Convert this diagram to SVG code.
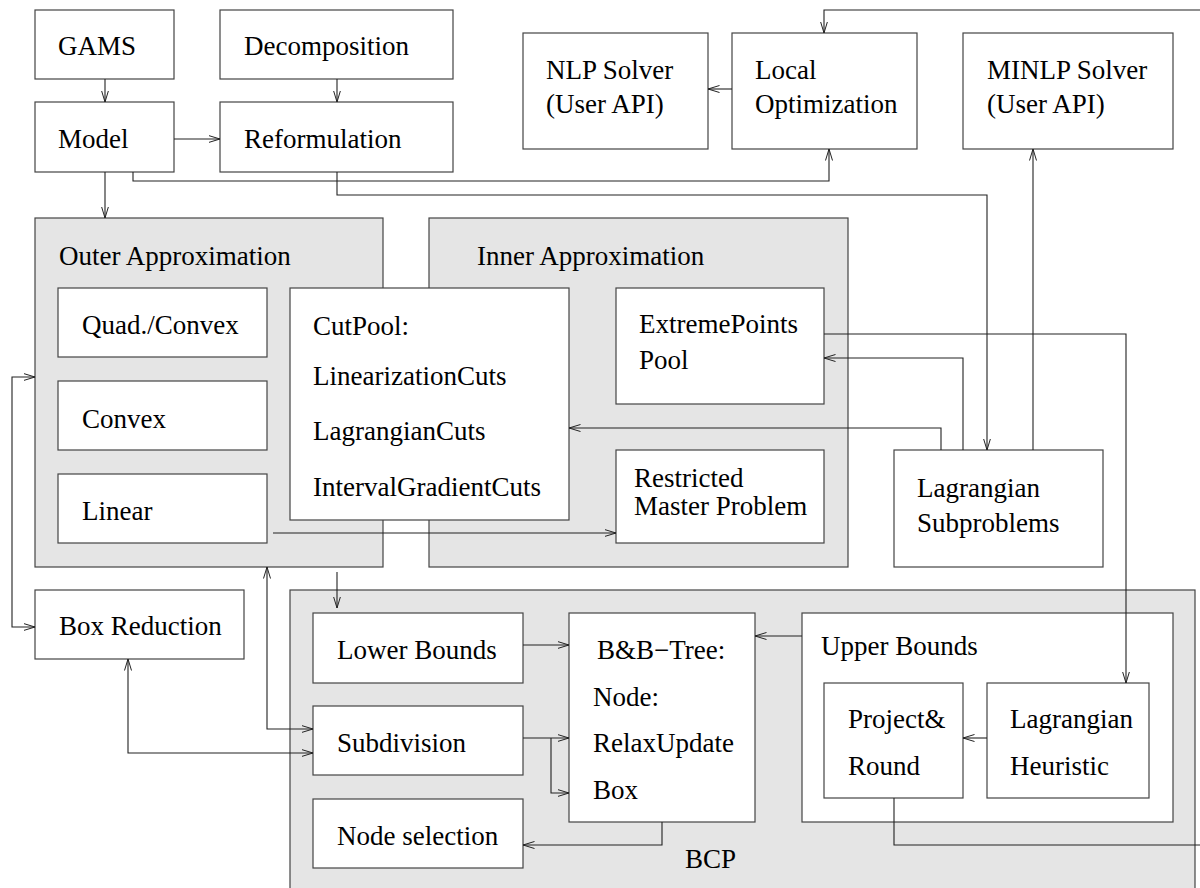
<svg xmlns="http://www.w3.org/2000/svg" width="1200" height="888" viewBox="0 0 1200 888">
<defs>
<style>
.box{fill:#fff;stroke:#444;stroke-width:1.2}
.grp{fill:#e5e5e5;stroke:#444;stroke-width:1.2}
.c{fill:none;stroke:#222;stroke-width:1.1}
.a{marker-end:url(#ah)}
.s{marker-start:url(#as)}
</style>
<marker id="ah" viewBox="0 0 12 8" refX="11.5" refY="4" markerWidth="12" markerHeight="8" markerUnits="userSpaceOnUse" orient="auto">
<path d="M0,0.5 L11.5,4 L0,7.5" fill="none" stroke="#222" stroke-width="1"/>
</marker>
<marker id="as" viewBox="0 0 12 8" refX="0.5" refY="4" markerWidth="12" markerHeight="8" markerUnits="userSpaceOnUse" orient="auto">
<path d="M12,0.5 L0.5,4 L12,7.5" fill="none" stroke="#222" stroke-width="1"/>
</marker>
</defs>
<rect width="1200" height="888" fill="#fff"/>
<g font-family="'Liberation Serif', 'Times New Roman', 'Nimbus Roman', 'Noto Serif', 'DejaVu Serif', serif" font-size="27" fill="#000">
<g id="outer-approximation">
<rect class="grp" x="35" y="218" width="348" height="349"/>
<text x="59" y="265">Outer Approximation</text>
</g>
<g id="inner-approximation">
<rect class="grp" x="429" y="218" width="419" height="349"/>
<text x="477" y="265">Inner Approximation</text>
</g>
<g id="bcp">
<rect class="grp" x="290" y="590" width="905" height="310"/>
<text x="685" y="868">BCP</text>
</g>

<g id="gams"><rect class="box" x="35" y="10" width="139" height="69"/><text x="58" y="55">GAMS</text></g>
<g id="decomposition"><rect class="box" x="220" y="10" width="233" height="69"/><text x="244" y="55">Decomposition</text></g>
<g id="model"><rect class="box" x="35" y="102" width="139" height="70"/><text x="58" y="148">Model</text></g>
<g id="reformulation"><rect class="box" x="220" y="102" width="233" height="70"/><text x="244" y="148">Reformulation</text></g>
<g id="nlp-solver"><rect class="box" x="523" y="33" width="185" height="116"/><text x="546" y="79">NLP Solver</text><text x="546" y="113">(User API)</text></g>
<g id="local-optimization"><rect class="box" x="732" y="33" width="185" height="116"/><text x="755" y="79">Local</text><text x="755" y="113">Optimization</text></g>
<g id="minlp-solver"><rect class="box" x="963" y="33" width="210" height="116"/><text x="987" y="79">MINLP Solver</text><text x="987" y="113">(User API)</text></g>

<g id="quad-convex"><rect class="box" x="58" y="288" width="209" height="69"/><text x="82" y="334">Quad./Convex</text></g>
<g id="convex"><rect class="box" x="58" y="381" width="209" height="69"/><text x="82" y="428">Convex</text></g>
<g id="linear"><rect class="box" x="58" y="474" width="209" height="69"/><text x="82" y="520">Linear</text></g>
<g id="cutpool"><rect class="box" x="290" y="288" width="279" height="232"/>
<text x="313" y="335">CutPool:</text>
<text x="313" y="385">LinearizationCuts</text>
<text x="313" y="440">LagrangianCuts</text>
<text x="313" y="496">IntervalGradientCuts</text></g>
<g id="extremepoints-pool"><rect class="box" x="616" y="288" width="208" height="116"/><text x="639" y="333">ExtremePoints</text><text x="639" y="369">Pool</text></g>
<g id="restricted-master"><rect class="box" x="616" y="450" width="208" height="93"/><text x="634" y="487">Restricted</text><text x="634" y="515">Master Problem</text></g>
<g id="lagrangian-subproblems"><rect class="box" x="894" y="450" width="209" height="117"/><text x="917" y="497">Lagrangian</text><text x="917" y="532">Subproblems</text></g>

<g id="box-reduction"><rect class="box" x="35" y="590" width="209" height="69"/><text x="59" y="635">Box Reduction</text></g>
<g id="lower-bounds"><rect class="box" x="313" y="613" width="210" height="70"/><text x="337" y="659">Lower Bounds</text></g>
<g id="subdivision"><rect class="box" x="313" y="706" width="210" height="69"/><text x="337" y="752">Subdivision</text></g>
<g id="node-selection"><rect class="box" x="313" y="799" width="210" height="69"/><text x="337" y="845">Node selection</text></g>
<g id="bb-tree"><rect class="box" x="569" y="613" width="186" height="209"/>
<text x="597" y="659">B&amp;B−Tree:</text>
<text x="593" y="706">Node:</text>
<text x="593" y="752">RelaxUpdate</text>
<text x="593" y="799">Box</text></g>
<g id="upper-bounds"><rect class="box" x="802" y="613" width="371" height="209"/><text x="821" y="655">Upper Bounds</text></g>
<g id="project-round"><rect class="box" x="824" y="683" width="139" height="115"/><text x="848" y="728">Project&amp;</text><text x="848" y="775">Round</text></g>
<g id="lagrangian-heuristic"><rect class="box" x="987" y="683" width="162" height="115"/><text x="1010" y="728">Lagrangian</text><text x="1010" y="775">Heuristic</text></g>
</g>
<g id="connectors">
<path class="c a" d="M105,79 V102"/>
<path class="c a" d="M337,79 V102"/>
<path class="c a" d="M174,139 H220"/>
<path class="c a" d="M105,172 V218"/>
<path class="c a" d="M133,172 V181 H829 V149"/>
<path class="c a" d="M337,172 V195 H987 V450"/>
<path class="c a" d="M732,89 H708"/>
<path class="c a" d="M1200,10 H824 V33"/>
<path class="c a" d="M1033,450 V149"/>
<path class="c a" d="M824,334 H1126 V683"/>
<path class="c a" d="M963,450 V358 H824"/>
<path class="c a" d="M941,450 V428 H569"/>
<path class="c a" d="M273,533 H616"/>
<path class="c s a" d="M35,377 H12 V627 H35"/>
<path class="c s a" d="M267,567 V729 H313"/>
<path class="c s a" d="M128,659 V753 H313"/>
<path class="c a" d="M337,572 V608"/>
<path class="c a" d="M523,645 H569"/>
<path class="c a" d="M523,738 H569"/>
<path class="c a" d="M551,738 V793 H569"/>
<path class="c a" d="M662,822 V845 H523"/>
<path class="c a" d="M802,636 H755"/>
<path class="c a" d="M987,738 H963"/>
<path class="c" d="M894,798 V845 H1200"/>
</g>
</svg>
